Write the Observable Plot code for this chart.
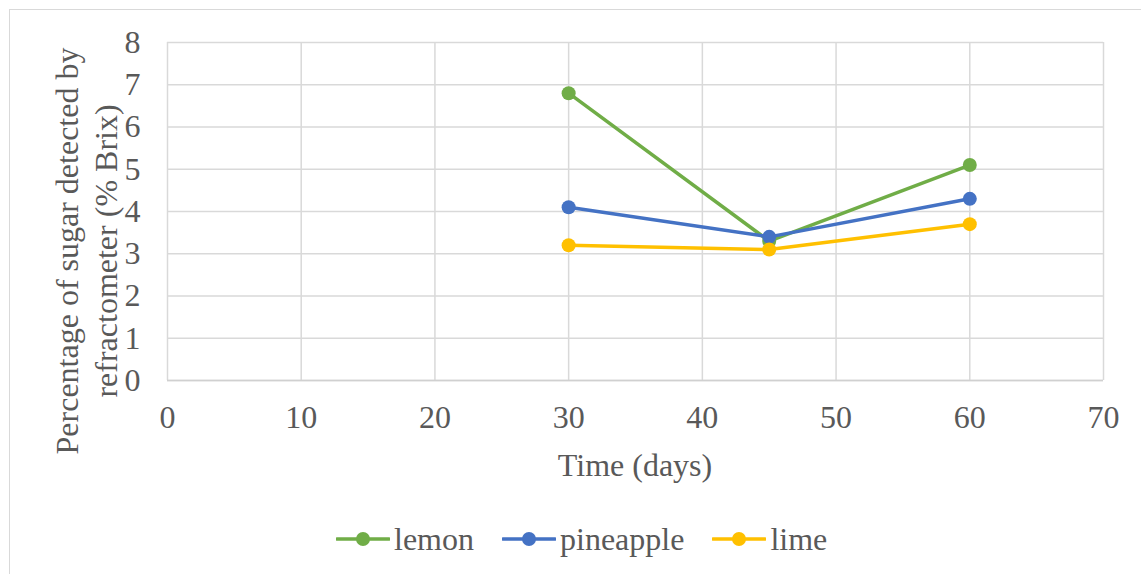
<!DOCTYPE html>
<html>
<head>
<meta charset="utf-8">
<script src="https://cdn.jsdelivr.net/npm/d3@7"></script>
<script src="https://cdn.jsdelivr.net/npm/@observablehq/plot@0.6"></script>
<style>
  html, body { margin: 0; padding: 0; background: #fff; }
  #wrap { position: relative; width: 1141px; height: 574px; overflow: hidden; font-family: "Liberation Serif", "DejaVu Serif", serif; color: #595959; }
  #border { position: absolute; left: 9px; top: 9px; width: 1200px; height: 600px; border: 1.5px solid #d9d9d9; box-sizing: border-box; }
  #chart { position: absolute; left: 0; top: 0; }
  #legend { position: absolute; left: 336px; top: 520px; display: flex; align-items: center; font-size: 32px; height: 38px; }
  .item { display: flex; align-items: center; margin-right: 28px; }
  .item svg { margin-right: 4px; }
  #chart svg text { font-family: "Liberation Serif", "DejaVu Serif", serif; }
</style>
</head>
<body>
<div id="wrap">
  <div id="border"></div>
  <div id="chart"></div>
  <div id="legend"></div>
</div>
<script>
const days = [30, 45, 60];
const seriesNames = ["lemon", "pineapple", "lime"];
const lemon = [6.8, 3.3, 5.1];
const pineapple = [4.1, 3.4, 4.3];
const lime = [3.2, 3.1, 3.7];
const colors = ["#70AD47", "#4472C4", "#FFC000"];
const xTicks = [0, 10, 20, 30, 40, 50, 60, 70];
const yTicks = [0, 1, 2, 3, 4, 5, 6, 7, 8];
const xLabel = "Time (days)";
const yLabelLines = ["Percentage of sugar detected by", "refractometer (% Brix)"];

const valuesBySeries = [lemon, pineapple, lime];
const data = [];
seriesNames.forEach((s, i) => days.forEach((d, j) => data.push({series: s, day: d, value: valuesBySeries[i][j]})));

const font = "Liberation Serif, DejaVu Serif, serif";
const svg = Plot.plot({
  width: 1141,
  height: 515,
  marginLeft: 167,
  marginRight: 38,
  marginTop: 42,
  marginBottom: 135,
  style: {fontFamily: font, fontSize: "32px", color: "#595959", background: "transparent", overflow: "visible"},
  x: {domain: [0, 70], ticks: xTicks, tickSize: 0, tickPadding: 25, label: null},
  y: {domain: [0, 8], ticks: yTicks, tickSize: 0, tickPadding: 27, label: null},
  color: {domain: seriesNames, range: colors},
  marks: [
    Plot.gridX(xTicks, {stroke: "#d9d9d9", strokeOpacity: 1, strokeWidth: 1.5}),
    Plot.gridY(yTicks, {stroke: "#d9d9d9", strokeOpacity: 1, strokeWidth: 1.5}),
    Plot.ruleY([0], {stroke: "#d0d0d0", strokeWidth: 1.5}),
    Plot.axisX({ticks: xTicks, tickSize: 0, tickPadding: 25, fill: "#595959", fontSize: 32, label: null}),
    Plot.axisY({ticks: yTicks, tickSize: 0, tickPadding: 27, fill: "#595959", fontSize: 32, label: null}),
    Plot.line(data, {x: "day", y: "value", z: "series", stroke: "series", strokeWidth: 3.5}),
    Plot.dot(data, {x: "day", y: "value", fill: "series", r: 7})
  ]
});
document.getElementById("chart").appendChild(svg);

const sel = d3.select(svg);
sel.append("text")
  .attr("x", (167 + 1103) / 2).attr("y", 476)
  .attr("text-anchor", "middle")
  .attr("fill", "#595959").attr("font-size", 32)
  .text(xLabel);
const yt = sel.append("text")
  .attr("transform", "translate(78,251) rotate(-90)")
  .attr("text-anchor", "middle")
  .attr("fill", "#595959").attr("font-size", 32);
yLabelLines.forEach((t, i) => yt.append("tspan").attr("x", 0).attr("dy", i === 0 ? 0 : 39).text(t));

const legend = d3.select("#legend");
seriesNames.forEach((s, i) => {
  const item = legend.append("div").attr("class", "item");
  const sw = item.append("svg").attr("width", 54).attr("height", 20);
  sw.append("line").attr("x1", 1).attr("x2", 53).attr("y1", 10).attr("y2", 10).attr("stroke", colors[i]).attr("stroke-width", 3.5).attr("stroke-linecap", "round");
  sw.append("circle").attr("cx", 27).attr("cy", 10).attr("r", 7).attr("fill", colors[i]);
  item.append("span").text(s);
});
</script>
</body>
</html>
